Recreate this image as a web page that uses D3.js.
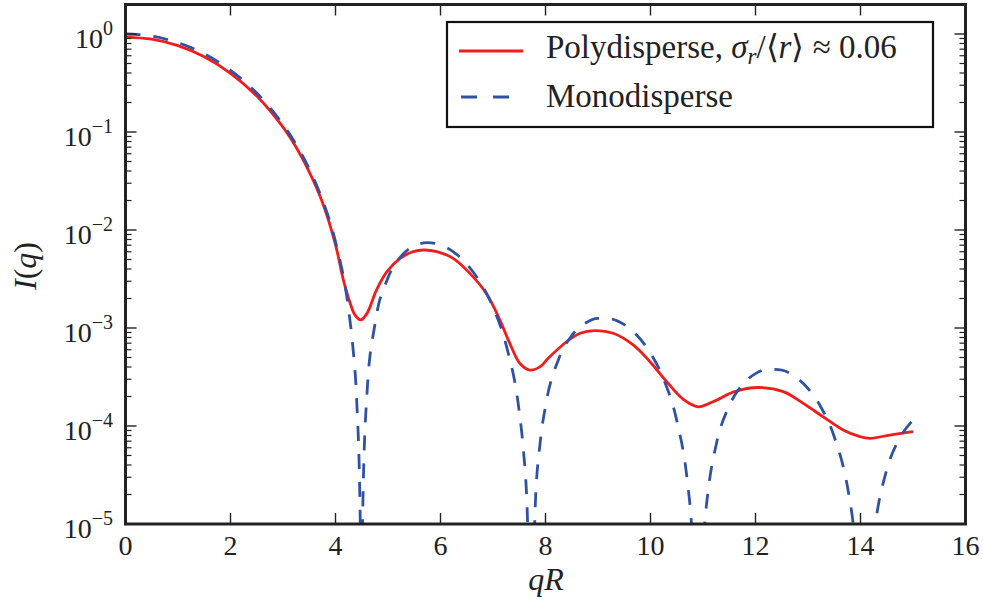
<!DOCTYPE html>
<html>
<head>
<meta charset="utf-8">
<script src="https://cdn.jsdelivr.net/npm/d3@7/dist/d3.min.js"></script>
</head>
<body style="margin:0">
<svg id="fig" width="983" height="601"></svg>
<script>
// ---------------- data ----------------
const monoX = [0, 0.25, 0.5, 0.75, 1.0, 1.25, 1.5, 1.75, 2.0, 2.25, 2.5, 2.75, 3.0, 3.25, 3.5, 3.75, 4.0, 4.25, 4.33, 4.4, 4.47, 4.48, 4.505, 4.52, 4.6, 4.75, 5.0, 5.25, 5.5, 5.75, 6.0, 6.25, 6.5, 6.75, 7.0, 7.25, 7.5, 7.58, 7.65, 7.7, 7.75, 7.8, 7.9, 8.0, 8.25, 8.5, 8.75, 9.0, 9.25, 9.5, 9.75, 10.0, 10.25, 10.5, 10.7, 10.78, 10.85, 10.95, 11.03, 11.1, 11.25, 11.5, 11.75, 12.0, 12.25, 12.5, 12.75, 13.0, 13.25, 13.5, 13.75, 13.85, 13.9, 14.07, 14.25, 14.3, 14.5, 14.75, 15.0];
const monoI = [1, 0.98756, 0.95106, 0.89278, 0.81632, 0.72628, 0.62781, 0.52622, 0.42654, 0.33313, 0.24946, 0.17785, 0.11949, 0.074475, 0.04194, 0.020317, 0.0075834, 0.00153, 0.00064623, 0.0001991, 1.177e-5, 3.8e-6, 2.8e-6, 1.452e-5, 2.1685e-4, 0.0010872, 0.0032551, 0.0054089, 0.0068895, 0.0074241, 0.0070384, 0.0059544, 0.0044882, 0.0029603, 0.001633, 0.00067258, 0.00013964, 5.6187e-5, 1.4609e-5, 1.605e-6, 1.5025e-6, 1.3337e-5, 6.8717e-5, 0.0001592, 0.00048101, 0.00083509, 0.0011152, 0.0012561, 0.0012381, 0.0010814, 0.00083346, 0.00055414, 0.00030013, 0.00011364, 2.7984e-5, 1.013e-5, 1.8845e-6, 1.3058e-6, 9.505e-6, 2.2275e-5, 6.4083e-5, 0.00016104, 0.00026339, 0.00034269, 0.00038054, 0.00037093, 0.0003197, 0.00024133, 0.00015459, 7.7667e-5, 2.4232e-5, 1.12e-5, 6.5654e-6, 1e-8, 7.2555e-6, 1.1496e-5, 3.5812e-5, 7.5622e-5, 0.00011464];

const polyX = [0, 0.5, 1.0, 1.5, 2.0, 2.5, 3.0, 3.25, 3.5, 3.75, 4.0, 4.15, 4.28, 4.37, 4.48, 4.6, 4.78, 4.98, 5.23, 5.48, 5.68, 5.93, 6.24, 6.56, 6.88, 7.13, 7.32, 7.51, 7.7, 7.9, 8.05, 8.4, 8.66, 8.94, 9.29, 9.67, 9.99, 10.31, 10.62, 10.91, 11.2, 11.6, 12.05, 12.53, 12.91, 13.29, 13.67, 13.99, 14.18, 14.56, 15.0];
const polyI = [0.93, 0.885, 0.76, 0.585, 0.397, 0.233, 0.112, 0.0698, 0.0392, 0.0192, 0.0071, 0.0031, 0.00179, 0.00136, 0.00121, 0.00141, 0.00244, 0.00376, 0.00514, 0.00601, 0.00625, 0.00601, 0.00514, 0.00361, 0.00222, 0.00121, 0.000698, 0.000437, 0.000372, 0.000403, 0.00049, 0.000724, 0.000883, 0.00094, 0.000883, 0.000671, 0.000453, 0.000283, 0.000188, 0.000157, 0.000178, 0.000224, 0.000247, 0.000224, 0.00017, 0.000124, 0.000091, 0.0000778, 0.0000748, 0.0000809, 0.0000875];

const xTickValues = [0, 2, 4, 6, 8, 10, 12, 14, 16];
const yExponents = [0, -1, -2, -3, -4, -5];
const legendLabels = ["Polydisperse", "Monodisperse"];

// ---------------- layout ----------------
const FONT = "'Liberation Serif'";
const svg = d3.select("#fig");
const L = 125.5, R = 965.5, T = 4.5, B = 524;
const x = d3.scaleLinear().domain([0, 16]).range([L, R]);
const y = d3.scaleLog().domain([1e-5, 2]).range([B, T]);
const ink = "#222";
const red = "#f21c1c", blue = "#2f52a8";

function txt(sel) {
  return sel.append("text").attr("font-family", FONT)
    .style("font-family", FONT, "important").attr("fill", ink);
}

svg.append("defs").append("clipPath").attr("id", "plotclip")
  .append("rect").attr("x", L).attr("y", T).attr("width", R - L).attr("height", B - T);

// curves
const monoData = monoX.map((v, i) => [v, monoI[i]]);
const polyData = polyX.map((v, i) => [v, polyI[i]]);

const g = svg.append("g").attr("clip-path", "url(#plotclip)");
g.append("path")
  .attr("d", d3.line().x(d => x(d[0])).y(d => y(d[1])).curve(d3.curveCatmullRom.alpha(0.5))(polyData))
  .attr("fill", "none").attr("stroke", red).attr("stroke-width", 2.8);
g.append("path")
  .attr("d", d3.line().x(d => x(d[0])).y(d => y(d[1])).curve(d3.curveMonotoneX)(monoData))
  .attr("fill", "none").attr("stroke", blue).attr("stroke-width", 2.8)
  .attr("stroke-dasharray", "15,13");

// ticks: x (bottom + top, major only)
const tk = svg.append("g").attr("stroke", ink).attr("stroke-width", 1.4);
xTickValues.forEach(v => {
  tk.append("line").attr("x1", x(v)).attr("x2", x(v)).attr("y1", B).attr("y2", B - 11);
  tk.append("line").attr("x1", x(v)).attr("x2", x(v)).attr("y1", T).attr("y2", T + 11);
});
// y ticks (left + right, major & minor)
const yMinor = [];
yExponents.forEach(e => { for (let m = 2; m <= 9; m++) { const v = m * Math.pow(10, e); if (v <= 2 && v >= 1e-5) yMinor.push(v); } });
yExponents.forEach(e => {
  const yy = y(Math.pow(10, e));
  tk.append("line").attr("x1", L).attr("x2", L + 11).attr("y1", yy).attr("y2", yy);
  tk.append("line").attr("x1", R).attr("x2", R - 11).attr("y1", yy).attr("y2", yy);
});
yMinor.forEach(v => {
  const yy = y(v);
  tk.append("line").attr("x1", L).attr("x2", L + 6).attr("y1", yy).attr("y2", yy).attr("stroke-width", 1.2);
  tk.append("line").attr("x1", R).attr("x2", R - 6).attr("y1", yy).attr("y2", yy).attr("stroke-width", 1.2);
});

// frame
svg.append("rect").attr("x", L).attr("y", T).attr("width", R - L).attr("height", B - T)
  .attr("fill", "none").attr("stroke", ink).attr("stroke-width", 3);

// tick labels
xTickValues.forEach(v => {
  txt(svg).attr("x", x(v)).attr("y", 555).attr("text-anchor", "middle")
    .attr("font-size", 28).text(v);
});
yExponents.forEach(e => {
  const yy = y(Math.pow(10, e));
  const t = txt(svg).attr("x", 113).attr("y", yy + 13.5).attr("text-anchor", "end").attr("font-size", 28);
  t.append("tspan").text("10");
  t.append("tspan").attr("dy", -13).attr("font-size", 20).text(e === 0 ? "0" : "\u2212" + Math.abs(e));
});

// axis labels
const xl = txt(svg).attr("x", 546).attr("y", 590).attr("text-anchor", "middle")
  .attr("font-size", 32).attr("font-style", "italic");
xl.append("tspan").text("qR");
const yl = txt(svg).attr("transform", "translate(36,266) rotate(-90)")
  .attr("text-anchor", "middle").attr("font-size", 32);
yl.append("tspan").attr("font-style", "italic").text("I");
yl.append("tspan").text("(");
yl.append("tspan").attr("font-style", "italic").text("q");
yl.append("tspan").text(")");

// legend
const lg = svg.append("g");
lg.append("rect").attr("x", 447).attr("y", 22).attr("width", 486).attr("height", 105)
  .attr("fill", "#fff").attr("stroke", "#111").attr("stroke-width", 2.2);
lg.append("line").attr("x1", 459).attr("x2", 523).attr("y1", 51).attr("y2", 51)
  .attr("stroke", red).attr("stroke-width", 2.8);
lg.append("line").attr("x1", 461).attr("x2", 510).attr("y1", 97).attr("y2", 97)
  .attr("stroke", blue).attr("stroke-width", 2.8).attr("stroke-dasharray", "16,16");
const t1 = txt(lg).attr("x", 546).attr("y", 58).attr("font-size", 33);
t1.append("tspan").text(legendLabels[0] + ", ");
t1.append("tspan").attr("font-style", "italic").text("\u03C3");
t1.append("tspan").attr("font-style", "italic").attr("font-size", 23).attr("dy", 6).text("r");
t1.append("tspan").attr("dy", -6).text("/\u27E8");
t1.append("tspan").attr("font-style", "italic").text("r");
t1.append("tspan").text("\u27E9 \u2248 0.06");
txt(lg).attr("x", 546).attr("y", 107).attr("font-size", 33).text(legendLabels[1]);
</script>
</body>
</html>
